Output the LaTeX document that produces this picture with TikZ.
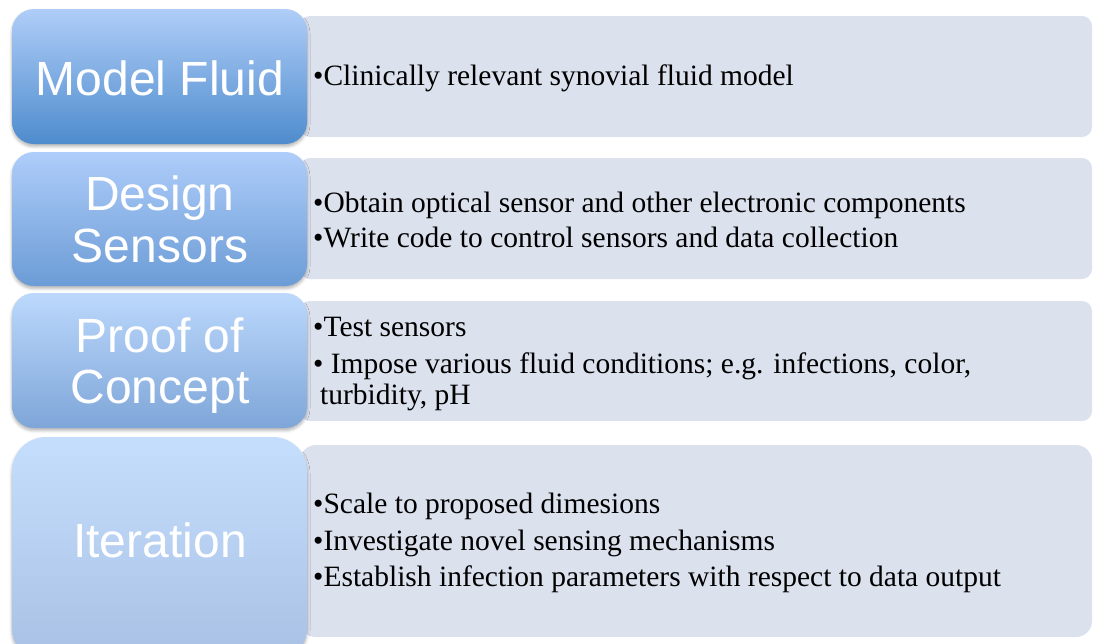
\documentclass[tikz,border=0pt]{standalone}
\usepackage{fontspec}
\setmainfont{Liberation Serif}
\newfontfamily\stagefont{Liberation Sans}
\usetikzlibrary{shadows.blur}

% stage colours, light at the top and darker at the bottom
\definecolor{noteGray}{RGB}{220,225,238}
\definecolor{fluidTop}{RGB}{175,205,248}
\definecolor{fluidBot}{RGB}{78,140,205}
\definecolor{designTop}{RGB}{174,205,250}
\definecolor{designBot}{RGB}{108,156,214}
\definecolor{proofTop}{RGB}{188,216,252}
\definecolor{proofBot}{RGB}{126,166,216}
\definecolor{iterTop}{RGB}{198,222,253}
\definecolor{iterBot}{RGB}{168,193,228}

\begin{document}
\begin{tikzpicture}[x=1pt, y=-1pt,
  stagebox/.style={rounded corners=22pt, blur shadow={shadow xshift=0pt, shadow yshift=-2.5pt, shadow blur radius=3pt, shadow opacity=30}},
  notebox/.style={fill=noteGray, rounded corners=10pt},
  stagetitle/.style={white, anchor=base, inner sep=0pt, font=\stagefont\fontsize{48}{52}\selectfont},
  notetext/.style={black, anchor=base west, inner sep=0pt, font=\fontsize{29.5}{35}\selectfont}]
\useasboundingbox (0,0) rectangle (1093,643);
\clip (0,0) rectangle (1093,643);

% grey note panels
\path[notebox] (300,16) rectangle (1092,137);
\path[notebox] (300,158) rectangle (1092,279);
\path[notebox] (300,301) rectangle (1092,421);
\path[notebox, rounded corners=16pt] (300,445) rectangle (1092,637);

% blue stage boxes
\path[stagebox, top color=fluidTop, bottom color=fluidBot] (12,9) rectangle (307,144);
\path[stagebox, top color=designTop, bottom color=designBot] (12,152) rectangle (307,286);
\path[stagebox, top color=proofTop, bottom color=proofBot] (12,293) rectangle (307,428);
\path[stagebox, rounded corners=34pt, top color=iterTop, bottom color=iterBot] (12,437) rectangle (307,662);

% stage titles
\node[stagetitle] (fluid) at (160,95) {Model Fluid};
\node[stagetitle] (design) at (160,210) {Design};
\node[stagetitle] (sensors) at (160,262) {Sensors};
\node[stagetitle] (proof) at (160,352) {Proof of};
\node[stagetitle] (concept) at (160,403) {Concept};
\node[stagetitle] (iter) at (160,557) {Iteration};

% bullet notes
\node[notetext] (fluidA) at (313,85) {•Clinically relevant synovial fluid model};
\node[notetext] (designA) at (313,212) {•Obtain optical sensor and other electronic components};
\node[notetext] (designB) at (313,247) {•Write code to control sensors and data collection};
\node[notetext] (proofA) at (313,336) {•Test sensors};
\node[notetext] (proofB) at (313,373) {• Impose various fluid conditions; e.g. infections, color,};
\node[notetext] (proofC) at (320,404) {turbidity, pH};
\node[notetext] (iterA) at (313,513) {•Scale to proposed dimesions};
\node[notetext] (iterB) at (313,550) {•Investigate novel sensing mechanisms};
\node[notetext] (iterC) at (313,586) {•Establish infection parameters with respect to data output};
\end{tikzpicture}
\end{document}
